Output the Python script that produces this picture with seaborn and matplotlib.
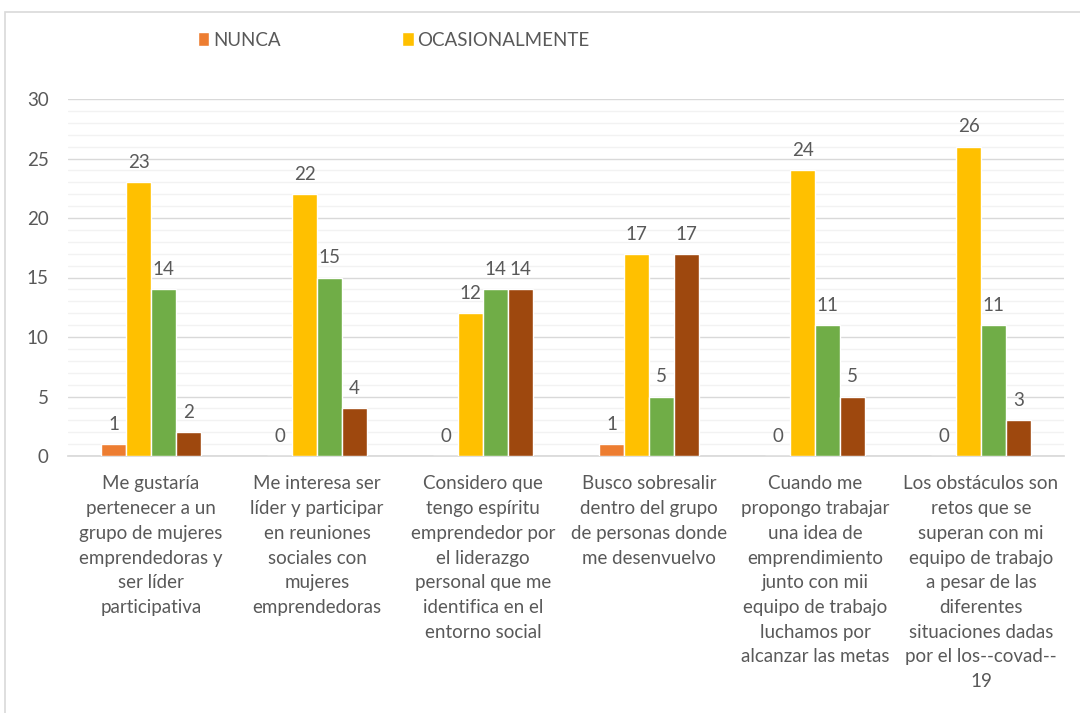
import numpy as np
import pandas as pd
import seaborn as sns
import matplotlib.pyplot as plt
from matplotlib.patches import Rectangle, Patch

# categories and values
categories = [
    "Me gustaría\npertenecer a un\ngrupo de mujeres\nemprendedoras y\nser líder\nparticipativa",
    "Me interesa ser\nlíder y participar\nen reuniones\nsociales con\nmujeres\nemprendedoras",
    "Considero que\ntengo espíritu\nemprendedor por\nel liderazgo\npersonal que me\nidentifica en el\nentorno social",
    "Busco sobresalir\ndentro del grupo\nde personas donde\nme desenvuelvo",
    "Cuando me\npropongo trabajar\nuna idea de\nemprendimiento\njunto con mii\nequipo de trabajo\nluchamos por\nalcanzar las metas",
    "Los obstáculos son\nretos que se\nsuperan con mi\nequipo de trabajo\na pesar de las\ndiferentes\nsituaciones dadas\npor el los--covad--\n19",
]
series = ["NUNCA", "OCASIONALMENTE", "FRECUENTEMENTE", "SIEMPRE"]
nunca = [1, 0, 0, 1, 0, 0]
ocasionalmente = [23, 22, 12, 17, 24, 26]
frecuentemente = [14, 15, 14, 5, 11, 11]
siempre = [2, 4, 14, 17, 5, 3]
colors = ["#ED7D31", "#FFC000", "#70AD47", "#9E480E"]

TEXT = "#595959"
FS = 13.5

df = pd.DataFrame({
    "categoria": categories * 4,
    "serie": np.repeat(series, len(categories)),
    "valor": nunca + ocasionalmente + frecuentemente + siempre,
})

sns.set_theme(style="white")
plt.rcParams["font.family"] = ["Lato", "DejaVu Sans"]

fig = plt.figure(figsize=(10.8, 7.13), dpi=100)
ax = fig.add_axes([68 / 1080, 1 - 456 / 713, (1064 - 68) / 1080, (456 - 99) / 713])

sns.barplot(data=df, x="categoria", y="valor", hue="serie", hue_order=series,
            palette=colors, width=0.6, saturation=1, ax=ax, legend=False, zorder=3)

for cont in ax.containers:
    ax.bar_label(cont, fmt="%d", padding=8, fontsize=FS, color=TEXT)

ax.set_ylim(0, 30)
ax.set_xlim(-0.5, len(categories) - 0.5)
ax.set_yticks(range(0, 31, 5))
ax.set_yticks(range(0, 31, 1), minor=True)
ax.grid(axis="y", which="major", color="#D9D9D9", linewidth=1, zorder=0)
ax.grid(axis="y", which="minor", color="#F2F2F2", linewidth=1, zorder=0)
ax.set_axisbelow(True)

ax.set_xticks(np.arange(-0.5, len(categories), 1), minor=True)
ax.tick_params(axis="x", which="major", length=0, pad=14)
ax.tick_params(axis="x", which="minor", length=6, color="#D9D9D9", width=1, direction="out")
ax.tick_params(axis="y", which="both", length=0, pad=14)
ax.set_xticklabels(categories, fontsize=FS, color=TEXT, linespacing=1.55, va="top")
for lbl in ax.get_yticklabels():
    lbl.set_fontsize(FS)
    lbl.set_color(TEXT)

ax.set_xlabel("")
ax.set_ylabel("")
for s in ["top", "right", "left"]:
    ax.spines[s].set_visible(False)
ax.spines["bottom"].set_color("#D9D9D9")

# legend shows only the first two series
handles = [Patch(facecolor=colors[0]), Patch(facecolor=colors[1])]
fig.legend(handles, series[:2], loc="center left", bbox_to_anchor=(181 / 1080, 1 - 40 / 713),
           ncol=2, frameon=False, fontsize=FS, labelcolor=TEXT, handlelength=0.6,
           handleheight=0.8, handletextpad=0.2, columnspacing=6.5)

# chart frame, cut off on the right and bottom
fig.patches.append(Rectangle((5 / 1080, -0.1), 1.2, 1 - 12 / 713 + 0.1, transform=fig.transFigure,
                             fill=False, edgecolor="#D9D9D9", linewidth=1.2))

fig.savefig("out.png", dpi=100)
